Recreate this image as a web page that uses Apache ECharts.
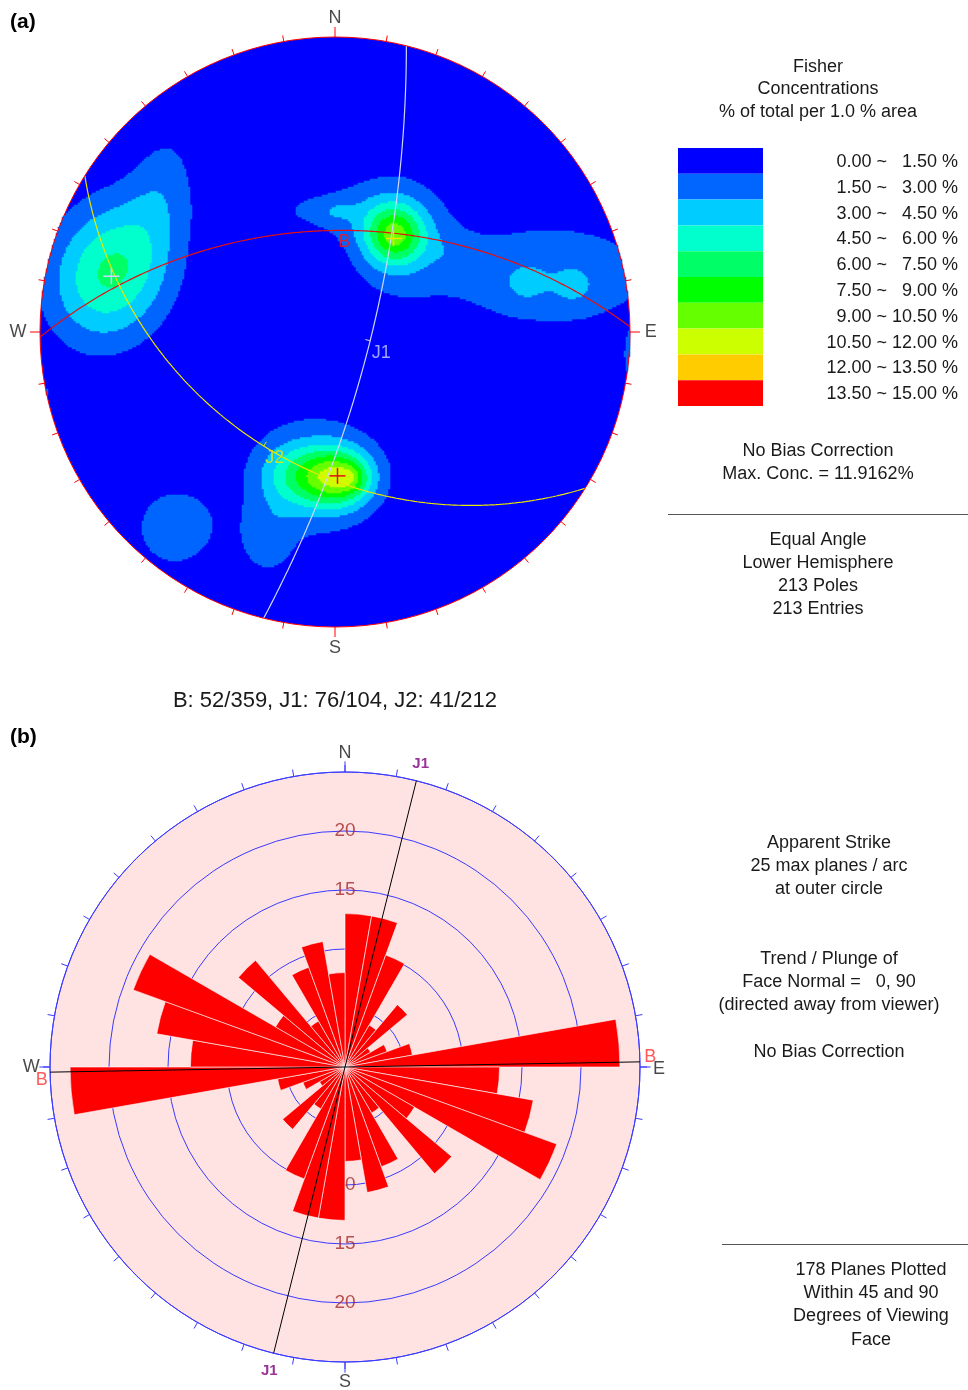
<!DOCTYPE html>
<html>
<head>
<meta charset="utf-8">
<script src="https://cdn.jsdelivr.net/npm/echarts@6/dist/echarts.min.js"></script>
<style>
  html, body { margin: 0; padding: 0; background: #ffffff; }
  #chart { width: 968px; height: 1390px; }
</style>
</head>
<body>
<div id="chart"></div>
<script>
const FONT = "'Liberation Sans', Arial, sans-serif";
const RAD = Math.PI / 180;

// ---- mean planes (dip / dip direction) ----
const planeNames   = ['B', 'J1', 'J2'];
const planeDips    = [52, 76, 41];
const planeDipDirs = [359, 104, 212];
const planeColors  = ['#e41010', '#cdd6ff', '#e8e800'];
const labelColors  = ['#ff1010', '#c4ccff', '#e8e800'];

// ---- Fisher concentration classes ----
const concBreaks = [0, 1.5, 3, 4.5, 6, 7.5, 9, 10.5, 12, 13.5, 15];
const concColors = ['#0000ff', '#0066ff', '#00ccff', '#00ffcc', '#00ff66',
                    '#00ff00', '#66ff00', '#ccff00', '#ffcc00', '#ff0000'];
const maxConc = 11.9162;

// ---- pole concentration sources (net coords: x east, y north, radius 1) ----
//                   W core  W tail  NE core NE base NE west NE knot NE link tail    tail a  tail b  E edge  W edge  S core  S east  S west  S base  S tail  SW
const clusterX    = [-0.760, -0.585, 0.203,  0.203,  -0.051, 0.010,  0.407,  0.729,  0.647,  0.810,  1.010,  -0.986, 0.010,  0.058,  -0.136, -0.068, -0.230, -0.542];
const clusterY    = [ 0.203,  0.490, 0.329,  0.339,  0.413,  0.410,  0.261,  0.193,  0.165,  0.155,  -0.095, -0.214, -0.492, -0.495, -0.485, -0.488, -0.712, -0.664];
const clusterPeak = [ 6.0,    1.8,   6.5,    2.4,    1.5,    1.2,    0.8,    2.4,    1.3,    1.3,    1.9,    1.8,    7.5,    2.0,    3.0,    2.8,    1.9,    2.3];
const clusterSa   = [ 0.172,  0.160, 0.068,  0.125,  0.200,  0.040,  0.085,  0.300,  0.050,  0.050,  0.027,  0.020,  0.081,  0.034,  0.085,  0.163,  0.065,  0.115];
const clusterSb   = [ 0.140,  0.082, 0.068,  0.155,  0.068,  0.020,  0.051,  0.150,  0.046,  0.046,  0.075,  0.034,  0.068,  0.034,  0.075,  0.153,  0.088,  0.115];
const clusterTilt = [ 69,     80,    0,      0,      0,      0,      -20,    0,      0,      0,      0,      0,      0,      0,      0,      0,      0,      0];

// ---- rose diagram: apparent strike, 10 degree bins from 0 to 180 ----
const roseCounts = [13.0, 13.0, 10.1, 4.1, 6.9, 2.5, 3.8, 5.8, 23.3,
                    13.1, 16.2, 19.1, 6.8, 11.8, 4.5, 9.0, 10.8, 8.0];
const roseMax = 25;
const roseRingStep = 5;
const roseLabelsNorth = [15, 20];
const roseLabelsSouth = [10, 15, 20];
const roseMinDip = 45;

// ---------------------------------------------------------------
const NET_CELLS = 295;

function concentration(x, y) {
  let s = 0;
  for (let k = 0; k < clusterPeak.length; k++) {
    const t = clusterTilt[k] * RAD;
    const dx = x - clusterX[k], dy = y - clusterY[k];
    const a = dx * Math.cos(t) + dy * Math.sin(t);
    const b = -dx * Math.sin(t) + dy * Math.cos(t);
    s += clusterPeak[k] * Math.exp(-0.5 * (a * a / (clusterSa[k] * clusterSa[k]) + b * b / (clusterSb[k] * clusterSb[k])));
  }
  return s;
}

// lower hemisphere, equal angle projection of a direction (east, north, up)
function project(e, n, u) {
  const plunge = Math.asin(Math.max(-1, Math.min(1, -u)));
  const trend = Math.atan2(e, n);
  const r = Math.tan((Math.PI / 2 - plunge) / 2);
  return [r * Math.sin(trend), r * Math.cos(trend)];
}

function greatCircle(dip, dipDir) {
  const d = dip * RAD, a = dipDir * RAD;
  const s = [Math.sin(a - Math.PI / 2), Math.cos(a - Math.PI / 2), 0];
  const v = [Math.sin(a) * Math.cos(d), Math.cos(a) * Math.cos(d), -Math.sin(d)];
  const pts = [];
  for (let k = 0; k <= 240; k++) {
    const t = Math.PI * k / 240;
    pts.push(project(
      Math.cos(t) * s[0] + Math.sin(t) * v[0],
      Math.cos(t) * s[1] + Math.sin(t) * v[1],
      Math.cos(t) * s[2] + Math.sin(t) * v[2]));
  }
  return pts;
}

function trendPlungeToXY(trend, plunge) {
  const r = Math.tan((90 - plunge) * RAD / 2);
  return [r * Math.sin(trend * RAD), r * Math.cos(trend * RAD)];
}

// density cells
const cellIdx = Array.from({ length: NET_CELLS }, (_, i) => i);
const rawCells = [];
let rawMax = 0;
for (let i = 0; i < NET_CELLS; i++) {
  const x = -1 + (i + 0.5) * 2 / NET_CELLS;
  for (let j = 0; j < NET_CELLS; j++) {
    const y = -1 + (j + 0.5) * 2 / NET_CELLS;
    if (x * x + y * y > 1) continue;
    const c = concentration(x, y);
    if (c > rawMax) rawMax = c;
    rawCells.push([i, j, c]);
  }
}
const concScale = maxConc / rawMax;
const heatData = rawCells
  .map(d => [d[0], d[1], d[2] * concScale])
  .filter(d => d[2] >= concBreaks[1]);

const poles = planeNames.map((n, k) => trendPlungeToXY((planeDipDirs[k] + 180) % 360, 90 - planeDips[k]));
const dipPoints = planeNames.map((n, k) => trendPlungeToXY(planeDipDirs[k], planeDips[k]));

// rose data
const roseSectors = Array.from({ length: 36 }, (_, k) => String(k * 10));
const roseValues = roseCounts.concat(roseCounts);
const rosePlanes = planeNames.map((n, k) => k).filter(k => planeDips[k] >= roseMinDip);

// ---------------------------------------------------------------
function txt(x, y, s, extra) {
  return {
    type: 'text', x: x, y: y, silent: true,
    style: Object.assign({
      text: s, fill: '#1a1a1a', font: '18px ' + FONT,
      align: 'center', verticalAlign: 'middle',
      textAlign: 'center', textVerticalAlign: 'middle'
    }, extra || {})
  };
}

const legendLabels = concColors.map((c, k) => {
  const lo = concBreaks[k].toFixed(2), hi = concBreaks[k + 1].toFixed(2);
  return lo + ' ~ ' + (hi.length < 5 ? '  ' : '') + hi + ' %';
});

const graphics = [
  txt(10, 22, '(a)', { font: 'bold 21px ' + FONT, align: 'left', textAlign: 'left', fill: '#000' }),
  txt(10, 737, '(b)', { font: 'bold 21px ' + FONT, align: 'left', textAlign: 'left', fill: '#000' }),
  txt(818, 67, 'Fisher'),
  txt(818, 89, 'Concentrations'),
  txt(818, 112, '% of total per 1.0 % area'),
  txt(818, 451, 'No Bias Correction'),
  txt(818, 474, 'Max. Conc. = ' + maxConc.toFixed(4) + '%'),
  { type: 'line', silent: true, shape: { x1: 668, y1: 514.5, x2: 968, y2: 514.5 }, style: { stroke: '#555', lineWidth: 1 } },
  txt(818, 540, 'Equal Angle'),
  txt(818, 563, 'Lower Hemisphere'),
  txt(818, 586, '213 Poles'),
  txt(818, 609, '213 Entries'),
  txt(335, 701, planeNames.map((n, k) => n + ': ' + planeDips[k] + '/' + planeDipDirs[k]).join(', '), { font: '22px ' + FONT }),
  txt(829, 843, 'Apparent Strike'),
  txt(829, 866, '25 max planes / arc'),
  txt(829, 889, 'at outer circle'),
  txt(829, 959, 'Trend / Plunge of'),
  txt(829, 982, 'Face Normal =   0, 90'),
  txt(829, 1005, '(directed away from viewer)'),
  txt(829, 1052, 'No Bias Correction'),
  { type: 'line', silent: true, shape: { x1: 722, y1: 1244.5, x2: 968, y2: 1244.5 }, style: { stroke: '#555', lineWidth: 1 } },
  txt(871, 1270, '178 Planes Plotted'),
  txt(871, 1293, 'Within 45 and 90'),
  txt(871, 1316, 'Degrees of Viewing'),
  txt(871, 1340, 'Face')
].concat(legendLabels.map((s, k) => txt(958, 162 + 25.8 * k, s, { align: 'right', textAlign: 'right' })));

// ---------------------------------------------------------------
const series = [];

// 0: concentration cells
series.push({
  type: 'heatmap', xAxisIndex: 0, yAxisIndex: 0, data: heatData,
  progressive: 0, silent: true, z: 2, emphasis: { disabled: true }
});

// blue base disk of the net
series.push({
  type: 'custom', coordinateSystem: 'cartesian2d', xAxisIndex: 1, yAxisIndex: 1,
  data: [[0, 0]], z: 1, silent: true,
  renderItem: (params, api) => {
    const c = api.coord([0, 0]);
    const r = api.size([1, 1])[0];
    return { type: 'circle', shape: { cx: c[0], cy: c[1], r: r }, style: { fill: concColors[0] } };
  }
});

// great circles
planeNames.forEach((n, k) => {
  series.push({
    type: 'line', xAxisIndex: 1, yAxisIndex: 1, data: greatCircle(planeDips[k], planeDipDirs[k]),
    showSymbol: false, symbol: 'none', clip: false, z: 4, silent: true,
    lineStyle: { color: planeColors[k], width: 1.2 }
  });
});

// pole crosses and dip ticks
series.push({
  type: 'custom', coordinateSystem: 'cartesian2d', xAxisIndex: 1, yAxisIndex: 1,
  data: planeNames.map((n, k) => [poles[k][0], poles[k][1], dipPoints[k][0], dipPoints[k][1], k]),
  z: 5, silent: true,
  renderItem: (params, api) => {
    const k = api.value(4);
    const p = api.coord([api.value(0), api.value(1)]);
    const d = api.coord([api.value(2), api.value(3)]);
    const c = api.coord([0, 0]);
    const len = Math.hypot(c[0] - d[0], c[1] - d[1]) || 1;
    const ux = (c[0] - d[0]) / len, uy = (c[1] - d[1]) / len;
    const col = planeColors[k];
    return {
      type: 'group', children: [
        { type: 'line', shape: { x1: p[0] - 8, y1: p[1], x2: p[0] + 8, y2: p[1] }, style: { stroke: col, lineWidth: 1.5 } },
        { type: 'line', shape: { x1: p[0], y1: p[1] - 8, x2: p[0], y2: p[1] + 8 }, style: { stroke: col, lineWidth: 1.5 } },
        { type: 'line', shape: { x1: d[0], y1: d[1], x2: d[0] + ux * 5, y2: d[1] + uy * 5 }, style: { stroke: col, lineWidth: 1 } }
      ]
    };
  }
});

// plane labels at dip points
series.push({
  type: 'scatter', xAxisIndex: 1, yAxisIndex: 1, clip: false, z: 5, silent: true,
  symbolSize: 1, itemStyle: { color: 'rgba(0,0,0,0)' },
  data: planeNames.map((n, k) => ({
    value: dipPoints[k], name: n,
    label: { show: true, formatter: n, color: labelColors[k], fontSize: 18, fontFamily: FONT, position: 'inside', offset: [11, 12] }
  }))
});

// net outline with 10 degree ticks
series.push({
  type: 'custom', coordinateSystem: 'cartesian2d', xAxisIndex: 1, yAxisIndex: 1,
  data: [[0, 0]], z: 6, silent: true,
  renderItem: (params, api) => {
    const c = api.coord([0, 0]);
    const r = api.size([1, 1])[0];
    const children = [{ type: 'circle', shape: { cx: c[0], cy: c[1], r: r }, style: { fill: 'none', stroke: '#ff0000', lineWidth: 1 } }];
    for (let az = 0; az < 360; az += 10) {
      const len = az % 90 === 0 ? 10 : 6;
      const s = Math.sin(az * RAD), q = Math.cos(az * RAD);
      children.push({
        type: 'line',
        shape: { x1: c[0] + s * r, y1: c[1] - q * r, x2: c[0] + s * (r + len), y2: c[1] - q * (r + len) },
        style: { stroke: '#ff0000', lineWidth: 1 }
      });
    }
    return { type: 'group', children: children };
  }
});

// compass letters of the net
series.push({
  type: 'scatter', xAxisIndex: 1, yAxisIndex: 1, clip: false, z: 6, silent: true,
  symbolSize: 1, itemStyle: { color: 'rgba(0,0,0,0)' },
  label: { show: true, formatter: '{b}', color: '#1a1a1a', fontSize: 18, fontFamily: FONT, position: 'inside' },
  data: [
    { name: 'N', value: [0, 1.065] }, { name: 'E', value: [1.07, 0] },
    { name: 'S', value: [0, -1.07] }, { name: 'W', value: [-1.075, 0] }
  ]
});

// ---- rose diagram ----
// pink face
series.push({
  type: 'custom', coordinateSystem: 'polar', polarIndex: 1, data: [[0, 0]], z: -1, silent: true,
  renderItem: (params, api) => {
    const c = api.coord([0, 0]);
    const e = api.coord([roseMax, 0]);
    return { type: 'circle', shape: { cx: c[0], cy: c[1], r: Math.hypot(e[0] - c[0], e[1] - c[1]) }, style: { fill: '#ffe3e3' } };
  }
});

// ring values (drawn below the petals)
series.push({
  type: 'scatter', coordinateSystem: 'polar', polarIndex: 1, z: 1, silent: true,
  symbolSize: 1, itemStyle: { color: 'rgba(0,0,0,0)' },
  label: { show: true, formatter: p => String(p.value[0]), color: '#a52a2a', fontSize: 19, fontFamily: FONT, position: 'inside' },
  data: roseLabelsNorth.map(v => [v, 0]).concat(roseLabelsSouth.map(v => [v, 180]))
});

// petals
series.push({
  type: 'bar', coordinateSystem: 'polar', polarIndex: 0, data: roseValues, z: 3, silent: true,
  barCategoryGap: '0%', barGap: '0%',
  itemStyle: { color: '#ff0000', borderColor: '#ffffff', borderWidth: 0.6 }
});

// strike lines of the planes inside the viewing range
rosePlanes.forEach(k => {
  const strike = (planeDipDirs[k] + 270) % 360;
  series.push({
    type: 'line', coordinateSystem: 'polar', polarIndex: 1, z: 4, silent: true,
    showSymbol: false, symbol: 'none', clip: false,
    data: [[25.2, strike], [0, 0], [25.2, (strike + 180) % 360]],
    lineStyle: { color: '#000000', width: 1 }
  });
});

// cardinal ticks of the rose
series.push({
  type: 'custom', coordinateSystem: 'polar', polarIndex: 1, data: [[0, 0]], z: 4, silent: true,
  renderItem: (params, api) => {
    const children = [0, 90, 180, 270].map(a => {
      const p1 = api.coord([roseMax, a]);
      const p2 = api.coord([roseMax + 0.9, a]);
      return { type: 'line', shape: { x1: p1[0], y1: p1[1], x2: p2[0], y2: p2[1] }, style: { stroke: '#3a3aff', lineWidth: 1 } };
    });
    return { type: 'group', children: children };
  }
});

// compass letters and plane tags of the rose
const roseTags = [
  { name: 'N', value: [26.6, 0], color: '#1a1a1a' },
  { name: 'E', value: [26.6, 90], color: '#1a1a1a', offset: [0, 2] },
  { name: 'S', value: [26.7, 180], color: '#1a1a1a' },
  { name: 'W', value: [26.6, 270], color: '#1a1a1a' }
];
rosePlanes.forEach(k => {
  const strike = (planeDipDirs[k] + 270) % 360;
  if (planeNames[k] === 'B') {
    roseTags.push({ name: 'B', value: [25.2, (strike + 180) % 360], color: '#ff3030', offset: [8, -5] });
    roseTags.push({ name: 'B', value: [25.2, strike], color: '#ff3030', offset: [-6, 8] });
  } else {
    roseTags.push({ name: planeNames[k], value: [26.5, strike], color: '#800080', bold: true });
    roseTags.push({ name: planeNames[k], value: [26.5, (strike + 180) % 360], color: '#800080', bold: true });
  }
});
series.push({
  type: 'scatter', coordinateSystem: 'polar', polarIndex: 1, z: 5, silent: true, clip: false,
  symbolSize: 1, itemStyle: { color: 'rgba(0,0,0,0)' },
  data: roseTags.map(t => ({
    name: t.name, value: t.value,
    label: {
      show: true, formatter: t.name, color: t.color, position: 'inside', fontFamily: FONT,
      fontSize: t.bold ? 15 : 18, fontWeight: t.bold ? 'bold' : 'normal', offset: t.offset || [0, 0]
    }
  }))
});

// ---------------------------------------------------------------
const option = {
  animation: false,
  backgroundColor: '#ffffff',
  textStyle: { fontFamily: FONT },
  grid: [
    { left: 40, top: 37, width: 590, height: 590, show: false },
    { left: 40, top: 37, width: 590, height: 590, show: false }
  ],
  xAxis: [
    { gridIndex: 0, type: 'category', data: cellIdx, show: false },
    { gridIndex: 1, type: 'value', min: -1, max: 1, show: false }
  ],
  yAxis: [
    { gridIndex: 0, type: 'category', data: cellIdx, show: false },
    { gridIndex: 1, type: 'value', min: -1, max: 1, show: false }
  ],
  polar: [
    { center: [345, 1067], radius: 295 },
    { center: [345, 1067], radius: 295 }
  ],
  angleAxis: [
    {
      polarIndex: 0, type: 'category', data: roseSectors, startAngle: 90, clockwise: true,
      axisLine: { show: true, lineStyle: { color: '#3a3aff', width: 1 } },
      axisTick: { show: true, length: 7, interval: 0, lineStyle: { color: '#3a3aff', width: 1 } },
      axisLabel: { show: false }, splitLine: { show: false }, splitArea: { show: false }
    },
    { polarIndex: 1, type: 'value', min: 0, max: 360, startAngle: 90, clockwise: true, show: false }
  ],
  radiusAxis: [
    {
      polarIndex: 0, type: 'value', min: 0, max: roseMax, interval: roseRingStep,
      axisLine: { show: false }, axisTick: { show: false }, axisLabel: { show: false },
      splitLine: { show: true, lineStyle: { color: '#3a3aff', width: 1 } }, splitArea: { show: false }
    },
    { polarIndex: 1, type: 'value', min: 0, max: roseMax, show: false }
  ],
  visualMap: {
    type: 'piecewise', seriesIndex: 0, dimension: 2, show: true,
    orient: 'vertical', inverse: true, left: 678, top: 148, padding: 0,
    itemWidth: 85, itemHeight: 25.8, itemGap: 0, itemSymbol: 'rect',
    selectedMode: false, hoverLink: false, showLabel: true,
    formatter: () => '', textGap: 0,
    pieces: concColors.map((c, k) => ({ gte: concBreaks[k], lt: concBreaks[k + 1], color: c }))
  },
  graphic: graphics,
  series: series
};

const chart = echarts.init(document.getElementById('chart'), null, { renderer: 'canvas' });
chart.setOption(option);
</script>
</body>
</html>
